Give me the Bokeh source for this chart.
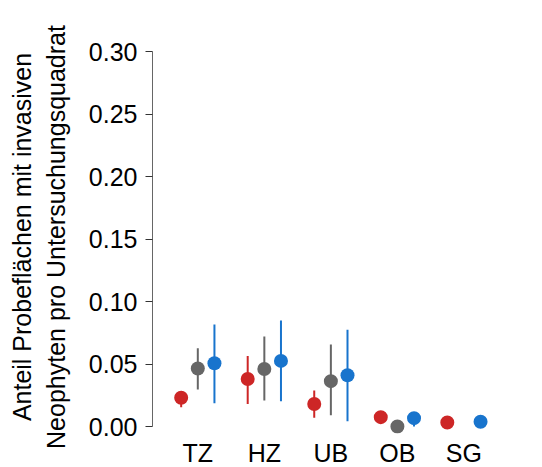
import numpy as np
from bokeh.plotting import figure
from bokeh.models import Range1d, FixedTicker, PrintfTickFormatter, ColumnDataSource
from bokeh.embed import file_html
from bokeh.resources import INLINE

categories = ["TZ", "HZ", "UB", "OB", "SG"]
y_ticks = [0.0, 0.05, 0.10, 0.15, 0.20, 0.25, 0.30]

red_mean = [0.023, 0.038, 0.018, 0.0075, 0.0032]
red_low = [0.0155, 0.018, 0.007, 0.005, 0.002]
red_high = [0.028, 0.0565, 0.0288, 0.010, 0.0045]

gray_mean = [0.0464, 0.046, 0.0363, 0.0, np.nan]
gray_low = [0.0296, 0.0208, 0.009, 0.0, np.nan]
gray_high = [0.0626, 0.072, 0.0656, 0.0, np.nan]

blue_mean = [0.0506, 0.0525, 0.041, 0.0067, 0.0038]
blue_low = [0.0186, 0.0203, 0.0043, 0.0, 0.0025]
blue_high = [0.0816, 0.0848, 0.0774, 0.010, 0.005]

FONT = "Liberation Sans"
pos = np.arange(1, len(categories) + 1)

p = figure(frame_width=358, frame_height=393,
           x_range=Range1d(0.319, 5.70), y_range=Range1d(-0.0056, 0.3088),
           output_backend="svg", toolbar_location=None,
           min_border_left=152, min_border_top=40, min_border_right=10,
           min_border_bottom=34)
p.outline_line_color = None
p.xgrid.visible = False
p.ygrid.visible = False
p.background_fill_color = "white"
p.border_fill_color = "white"

series = [
    (red_mean, red_low, red_high, -0.25, "#CD2626"),
    (gray_mean, gray_low, gray_high, 0.0, "#666666"),
    (blue_mean, blue_low, blue_high, 0.25, "#1874CD"),
]
for mean, low, high, off, col in series:
    src = ColumnDataSource(dict(x=pos + off, m=mean, lo=low, hi=high))
    p.segment(x0="x", y0="lo", x1="x", y1="hi", source=src, line_color=col, line_width=2)
    p.scatter(x="x", y="m", source=src, marker="circle", size=14,
              fill_color=col, line_color=col, line_width=0)

# y axis
ya = p.yaxis[0]
ya.ticker = FixedTicker(ticks=y_ticks)
ya.formatter = PrintfTickFormatter(format="%.2f")
ya.bounds = (0, 0.30)
ya.minor_tick_line_color = None
ya.major_tick_in = 0
ya.major_tick_out = 7
ya.major_tick_line_color = "#333333"
ya.axis_line_color = "#666666"
ya.major_label_text_font = FONT
ya.major_label_text_font_size = "25px"
ya.major_label_text_color = "black"
ya.major_label_standoff = 8
ya.axis_label = "Anteil Probeflächen mit invasiven\nNeophyten pro Untersuchungsquadrat"
ya.axis_label_text_font = FONT
ya.axis_label_text_font_size = "25px"
ya.axis_label_text_font_style = "normal"
ya.axis_label_text_color = "black"
ya.axis_label_standoff = 16

# x axis
xa = p.xaxis[0]
xa.ticker = FixedTicker(ticks=list(pos))
xa.major_label_overrides = {int(i): c for i, c in zip(pos, categories)}
xa.axis_line_color = None
xa.major_tick_line_color = None
xa.minor_tick_line_color = None
xa.major_label_text_font = FONT
xa.major_label_text_font_size = "25px"
xa.major_label_text_color = "black"
xa.major_label_standoff = -1

open("out.html", "w").write(file_html(p, INLINE))
